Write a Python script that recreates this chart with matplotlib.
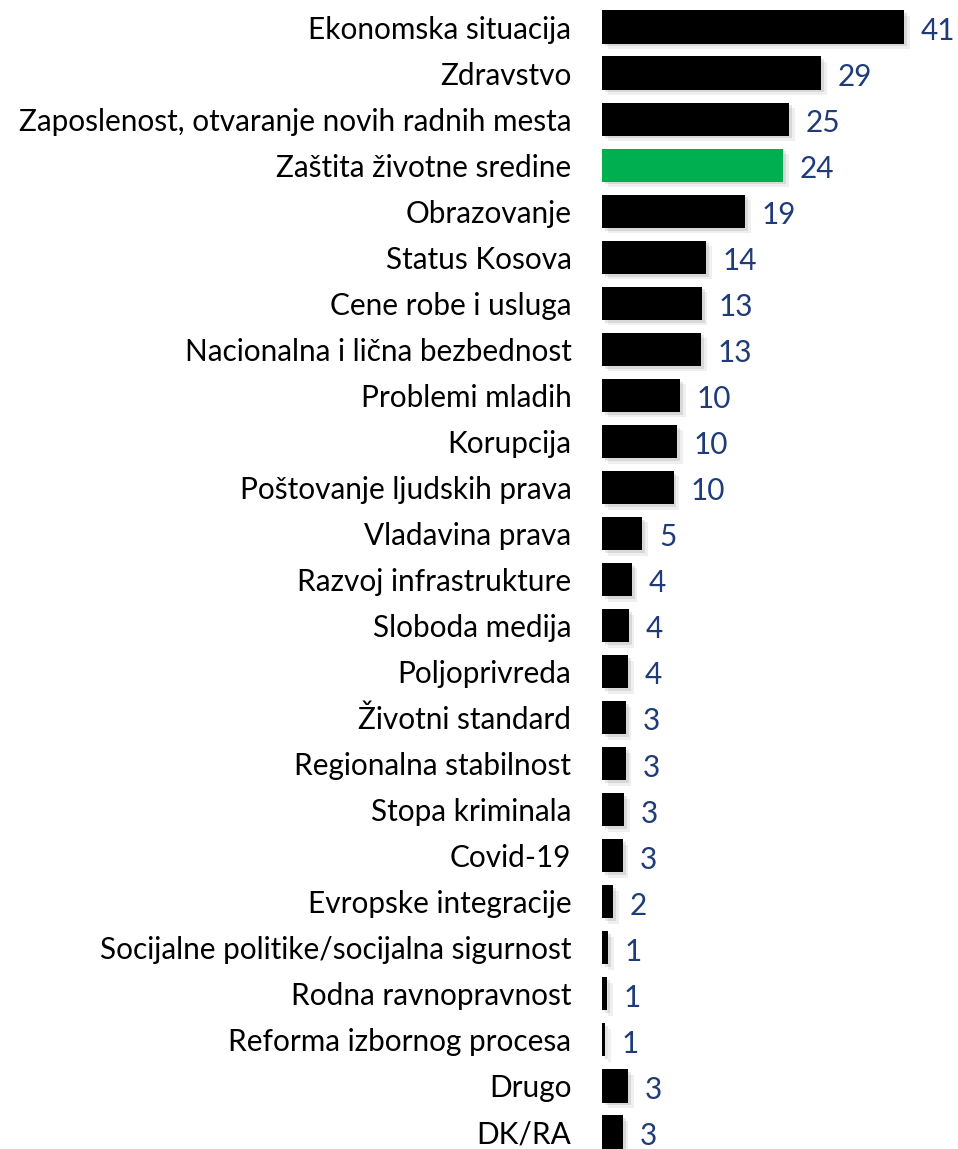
import matplotlib.pyplot as plt
import matplotlib.patheffects as pe

categories = [
    'Ekonomska situacija', 'Zdravstvo', 'Zaposlenost, otvaranje novih radnih mesta',
    'Zaštita životne sredine', 'Obrazovanje', 'Status Kosova', 'Cene robe i usluga',
    'Nacionalna i lična bezbednost', 'Problemi mladih', 'Korupcija',
    'Poštovanje ljudskih prava', 'Vladavina prava', 'Razvoj infrastrukture',
    'Sloboda medija', 'Poljoprivreda', 'Životni standard', 'Regionalna stabilnost',
    'Stopa kriminala', 'Covid-19', 'Evropske integracije',
    'Socijalne politike/socijalna sigurnost', 'Rodna ravnopravnost',
    'Reforma izbornog procesa', 'Drugo', 'DK/RA',
]
# bar lengths, labels as printed
values = [40.6, 29.4, 25.1, 24.3, 19.2, 14.0, 13.4, 13.3, 10.5, 10.1, 9.6, 5.4,
          4.0, 3.6, 3.5, 3.2, 3.2, 3.0, 2.8, 1.5, 0.8, 0.7, 0.4, 3.5, 2.8]
labels = ['41', '29', '25', '24', '19', '14', '13', '13', '10', '10', '10', '5',
          '4', '4', '4', '3', '3', '3', '3', '2', '1', '1', '1', '3', '3']
highlight = 'Zaštita životne sredine'

plt.rcParams['font.family'] = ['Lato', 'DejaVu Sans']

fig = plt.figure(figsize=(9.58, 11.49), dpi=100)
ax = fig.add_axes([602 / 958, 0, 348 / 958, 1145 / 1149])

colors = ['#00B050' if c == highlight else 'black' for c in categories]
bars = ax.barh(range(len(categories)), values, height=0.72, color=colors)
for b in bars:
    # soft drop shadow, two layers
    b.set_path_effects([
        pe.SimplePatchShadow(offset=(4, -4), shadow_rgbFace='gray', alpha=0.12),
        pe.SimplePatchShadow(offset=(2, -2), shadow_rgbFace='gray', alpha=0.2),
        pe.Normal(),
    ])

for i, (v, lab) in enumerate(zip(values, labels)):
    ax.annotate(lab, (v, i), xytext=(12, -1), textcoords='offset points',
                va='center_baseline', ha='left', fontsize=21.4, color='#1F3C78')

ax.set_yticks(range(len(categories)))
ax.set_yticklabels(categories, fontsize=21.4, va='center_baseline')
ax.tick_params(axis='y', length=0, pad=22)
ax.set_xticks([])
ax.set_xlim(0, 348 / 7.45)
ax.set_ylim(24.37, -0.5)
for s in ax.spines.values():
    s.set_visible(False)

fig.savefig('out.png', dpi=100)
